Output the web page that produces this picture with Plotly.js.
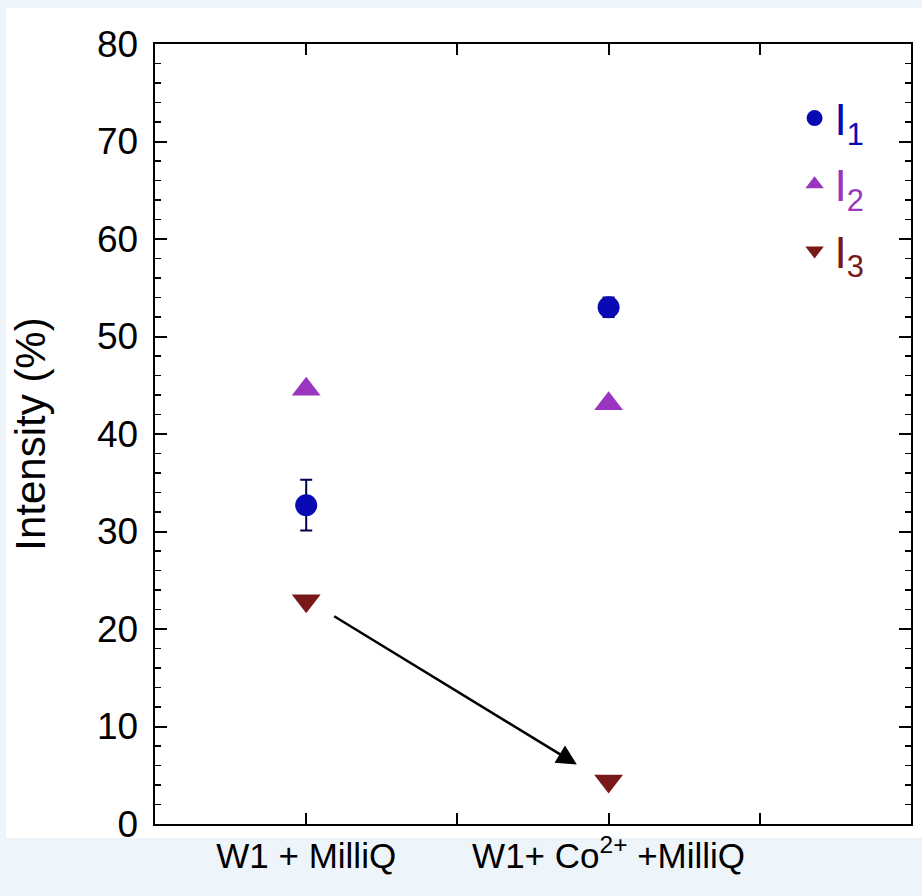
<!DOCTYPE html>
<html>
<head>
<meta charset="utf-8">
<script src="https://cdn.plot.ly/plotly-3.0.1.min.js"></script>
<style>
html,body{margin:0;padding:0;background:#eef5fa;}
#wrap{position:relative;width:922px;height:896px;background:#eef5fa;overflow:hidden;}
#panel{position:absolute;left:6px;top:8px;width:916px;height:830px;background:#ffffff;}
#chart{position:absolute;left:0;top:0;width:922px;height:896px;}
</style>
</head>
<body>
<div id="wrap"><div id="panel"></div><div id="chart"></div></div>
<script>
// Data
const tickPositions = [1, 2, 3, 4];
const tickLabels = ['W1 + MilliQ', '', 'W1+ Co<sup>2+</sup> +MilliQ', ''];
const categoryPositions = [1, 3];
const I1 = [32.7, 53.0];
const I1err = [2.6, 1.0];
const I2 = [44.6, 43.1];
const I3 = [22.9, 4.4];
const seriesNames = ['I<sub>1</sub>', 'I<sub>2</sub>', 'I<sub>3</sub>'];
const seriesColors = ['#0a0ab4', '#9a35bf', '#781818'];
const arrowStart = [1.175, 21.4];
const arrowEnd = [2.79, 6.1];

const W = 922, H = 896;
const m = {l: 155, r: 11, t: 44, b: 72};
const yRange = [0, 80];

function legendName(i) {
  return '<span style="color:' + seriesColors[i] + '">' + seriesNames[i] + '</span>';
}

const traces = [
  {x: categoryPositions, y: I1, type: 'scatter', mode: 'markers', name: legendName(0), legendgroup: 'g1',
   marker: {symbol: 'circle', size: 22, color: seriesColors[0]},
   error_y: {type: 'data', array: I1err, visible: true, color: '#000050', thickness: 2, width: 6}},
  {x: categoryPositions, y: I2, type: 'scatter', mode: 'markers', name: legendName(1), legendgroup: 'g2',
   marker: {symbol: 'triangle-up', size: 25, color: seriesColors[1]}},
  {x: categoryPositions, y: I3, type: 'scatter', mode: 'markers', name: legendName(2), legendgroup: 'g3', yaxis: 'y2',
   marker: {symbol: 'triangle-down', size: 25, color: seriesColors[2]}}
];

const layout = {
  width: W, height: H,
  margin: m,
  paper_bgcolor: 'rgba(0,0,0,0)',
  plot_bgcolor: 'rgba(0,0,0,0)',
  showlegend: true,
  legend: {
    x: 0.846, y: 0.95, xanchor: 'left', yanchor: 'top',
    bgcolor: 'rgba(0,0,0,0)', borderwidth: 0, tracegroupgap: 6,
    font: {family: 'Liberation Sans, Arial, sans-serif', size: 44, color: '#000'}
  },
  xaxis: {
    range: [0, 5], tickmode: 'array', tickvals: tickPositions, ticktext: tickLabels,
    ticks: 'inside', ticklen: 11, tickwidth: 2, tickcolor: '#000000',
    showline: true, linewidth: 2, linecolor: '#000000', mirror: 'ticks',
    showgrid: false, zeroline: false,
    tickfont: {family: 'Liberation Sans, Arial, sans-serif', size: 35, color: '#000'}
  },
  yaxis: {
    range: yRange, dtick: 10, tick0: 0,
    ticks: 'inside', ticklen: 12, tickwidth: 2, tickcolor: '#000000',
    showline: true, linewidth: 2, linecolor: '#000000', mirror: 'ticks',
    showgrid: false, zeroline: false, ticksuffix: '\u2009',
    tickfont: {family: 'Liberation Sans, Arial, sans-serif', size: 37, color: '#000'},
    title: {text: 'Intensity (%)', standoff: 38,
            font: {family: 'Liberation Sans, Arial, sans-serif', size: 42, color: '#000'}}
  },
  yaxis2: {
    overlaying: 'y', side: 'left', anchor: 'x', range: yRange, dtick: 2, tick0: 0,
    ticks: 'inside', ticklen: 6, tickwidth: 1.5, tickcolor: '#000000', mirror: 'ticks',
    showline: false, showticklabels: false, showgrid: false, zeroline: false
  },
  annotations: [
    {x: arrowEnd[0], y: arrowEnd[1], ax: arrowStart[0], ay: arrowStart[1],
     xref: 'x', yref: 'y', axref: 'x', ayref: 'y', text: '', showarrow: true,
     arrowhead: 2, arrowsize: 1.6, arrowwidth: 2.5, arrowcolor: '#000', standoff: 0}
  ]
};

Plotly.newPlot('chart', traces, layout, {displayModeBar: false, staticPlot: true});
</script>
</body>
</html>
